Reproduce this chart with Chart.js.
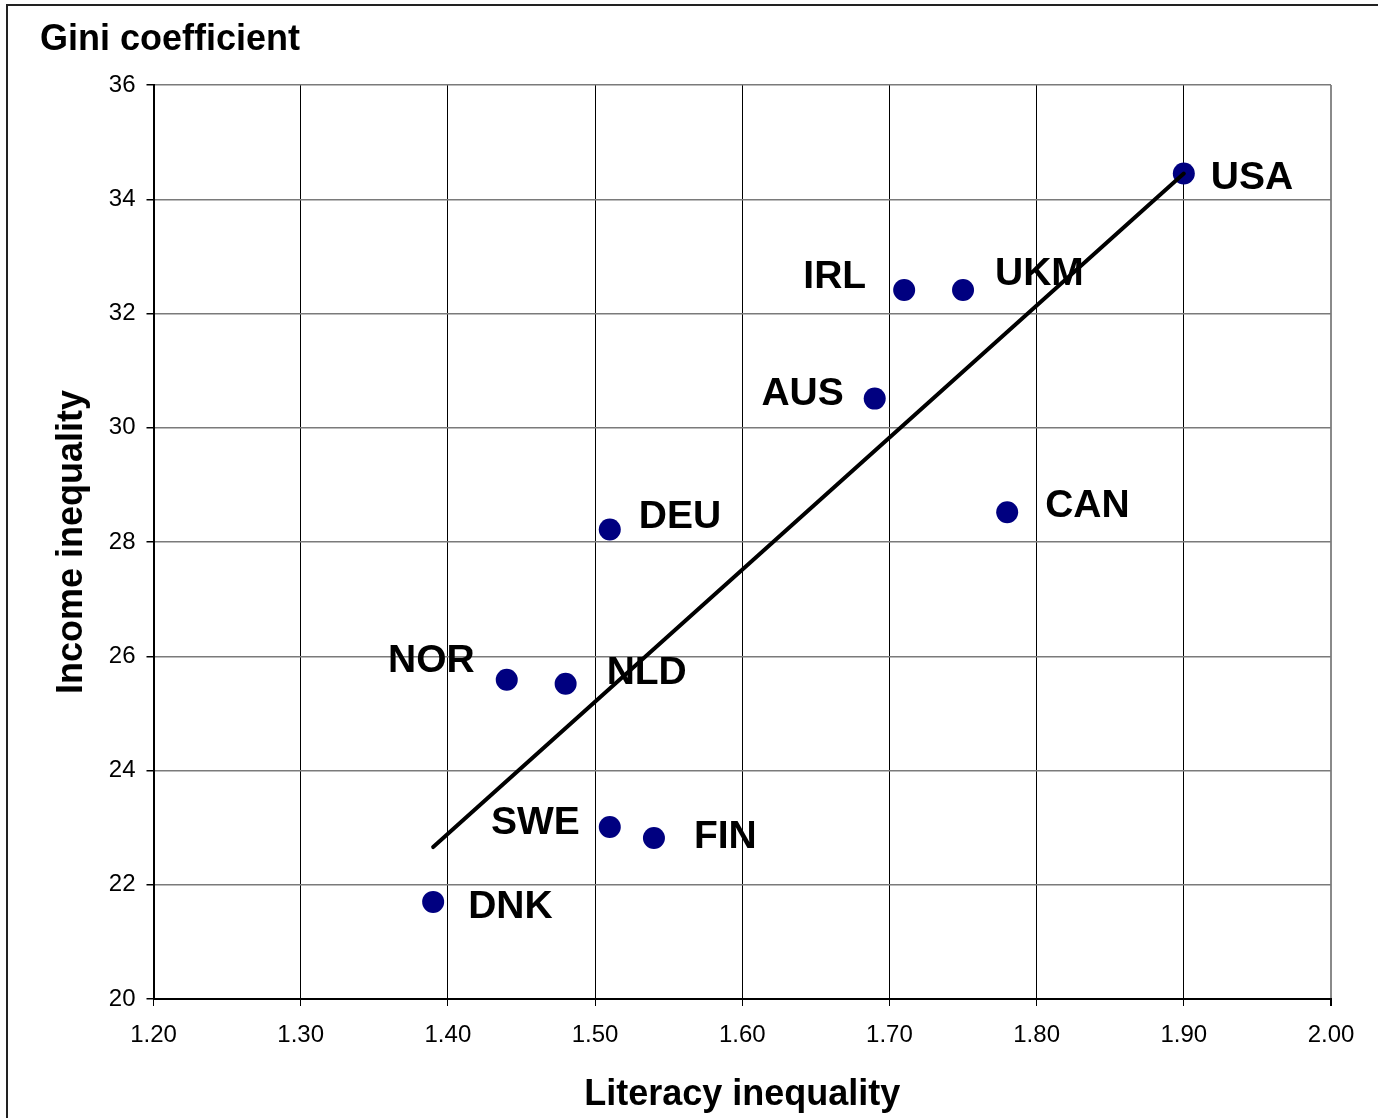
<!DOCTYPE html>
<html>
<head>
<meta charset="utf-8">
<script src="https://cdn.jsdelivr.net/npm/chart.js@4"></script>
<style>
  html, body { margin: 0; padding: 0; background: #fff; }
  #wrap { width: 1378px; height: 1118px; position: relative; }
</style>
</head>
<body>
<div id="wrap"><canvas id="chart" width="1378" height="1118"></canvas></div>
<script>
// Country codes with literacy inequality (x) and Gini coefficient (y)
const countries = ['USA', 'IRL', 'UKM', 'AUS', 'CAN', 'DEU', 'NOR', 'NLD', 'SWE', 'FIN', 'DNK'];
const literacy  = [1.90, 1.71, 1.75, 1.69, 1.78, 1.51, 1.44, 1.48, 1.51, 1.54, 1.39];
const gini      = [34.45, 32.41, 32.41, 30.51, 28.52, 28.22, 25.59, 25.52, 23.01, 22.82, 21.70];

// Trend line end points
const trendX = [1.39, 1.90];
const trendY = [22.66, 34.45];

// Axis ranges / steps
const xTicks = { min: 1.2, max: 2.0, step: 0.1 };
const yTicks = { min: 20, max: 36, step: 2 };

// Where each label sits relative to its marker (pixels): dx, baseline dy, alignment
const labelPlace = {
    USA: [27, 15, 'left'],
    IRL: [-38, -2, 'right'],
    UKM: [32, -5, 'left'],
    AUS: [-31, 6, 'right'],
    CAN: [38, 5, 'left'],
    DEU: [29, -1, 'left'],
    NOR: [-32, -8, 'right'],
    NLD: [41, 0, 'left'],
    SWE: [-30, 7, 'right'],
    FIN: [40, 10, 'left'],
    DNK: [35, 16, 'left']
};

const FONT = '"Liberation Sans", Arial, sans-serif';

const points = countries.map((c, i) => ({ x: literacy[i], y: gini[i] }));
const trend = trendX.map((x, i) => ({ x: x, y: trendY[i] }));

// frame, titles and country labels
const decorPlugin = {
    id: 'decor',
    beforeDraw(chart) {
        const ctx = chart.ctx;
        ctx.save();
        ctx.fillStyle = '#fff';
        ctx.fillRect(0, 0, chart.width, chart.height);
        ctx.strokeStyle = '#222';
        ctx.lineWidth = 2;
        ctx.strokeRect(7, 5, chart.width + 20, chart.height + 20);
        ctx.restore();
    },
    afterDraw(chart) {
        const ctx = chart.ctx;
        const area = chart.chartArea;
        ctx.save();
        ctx.fillStyle = '#000';

        ctx.font = 'bold 36px ' + FONT;
        ctx.textAlign = 'left';
        ctx.textBaseline = 'alphabetic';
        ctx.fillText('Gini coefficient', 40, 50);

        ctx.textAlign = 'center';
        ctx.fillText('Literacy inequality', (area.left + area.right) / 2, 1105);

        ctx.save();
        ctx.translate(82, (area.top + area.bottom) / 2);
        ctx.rotate(-Math.PI / 2);
        ctx.fillText('Income inequality', 0, 0);
        ctx.restore();

        const meta = chart.getDatasetMeta(1);
        ctx.font = 'bold 39px ' + FONT;
        meta.data.forEach((pt, i) => {
            const p = labelPlace[countries[i]];
            ctx.textAlign = p[2];
            ctx.fillText(countries[i], pt.x + p[0], pt.y + p[1]);
        });
        ctx.restore();
    }
};

new Chart(document.getElementById('chart'), {
    type: 'scatter',
    data: {
        datasets: [
            {
                type: 'line',
                label: 'Trend',
                data: trend,
                borderColor: '#000',
                borderWidth: 4,
                borderCapStyle: 'round',
                pointRadius: 0,
                fill: false,
                order: 0
            },
            {
                label: 'Countries',
                data: points,
                backgroundColor: '#000080',
                borderColor: '#000080',
                borderWidth: 0,
                pointRadius: 11,
                pointHoverRadius: 11,
                order: 1
            }
        ]
    },
    options: {
        responsive: false,
        animation: false,
        devicePixelRatio: 1,
        layout: { padding: { top: 85, right: 47, left: 0, bottom: 0 } },
        plugins: {
            legend: { display: false },
            tooltip: { enabled: false }
        },
        scales: {
            x: {
                type: 'linear',
                min: xTicks.min,
                max: xTicks.max,
                afterFit: (scale) => { scale.height = 119; },
                ticks: {
                    stepSize: xTicks.step,
                    padding: 15,
                    color: '#000',
                    font: { family: FONT, size: 24 },
                    callback: (v) => Number(v).toFixed(2)
                },
                grid: {
                    color: (c) => (c.tick && Math.abs(c.tick.value - xTicks.max) < 1e-6) ? '#8a8a8a' : '#000',
                    lineWidth: (c) => (c.tick && Math.abs(c.tick.value - xTicks.max) < 1e-6) ? 2 : 1,
                    tickColor: '#000',
                    tickLength: 7
                },
                border: { color: '#000', width: 2 }
            },
            y: {
                type: 'linear',
                min: yTicks.min,
                max: yTicks.max,
                afterFit: (scale) => { scale.width = 153.5; },
                ticks: {
                    stepSize: yTicks.step,
                    padding: 11,
                    color: '#000',
                    font: { family: FONT, size: 24 }
                },
                grid: {
                    color: '#7a7a7a',
                    lineWidth: 1.5,
                    tickColor: '#000',
                    tickLength: 7
                },
                border: { color: '#000', width: 2 }
            }
        }
    },
    plugins: [decorPlugin]
});
</script>
</body>
</html>
